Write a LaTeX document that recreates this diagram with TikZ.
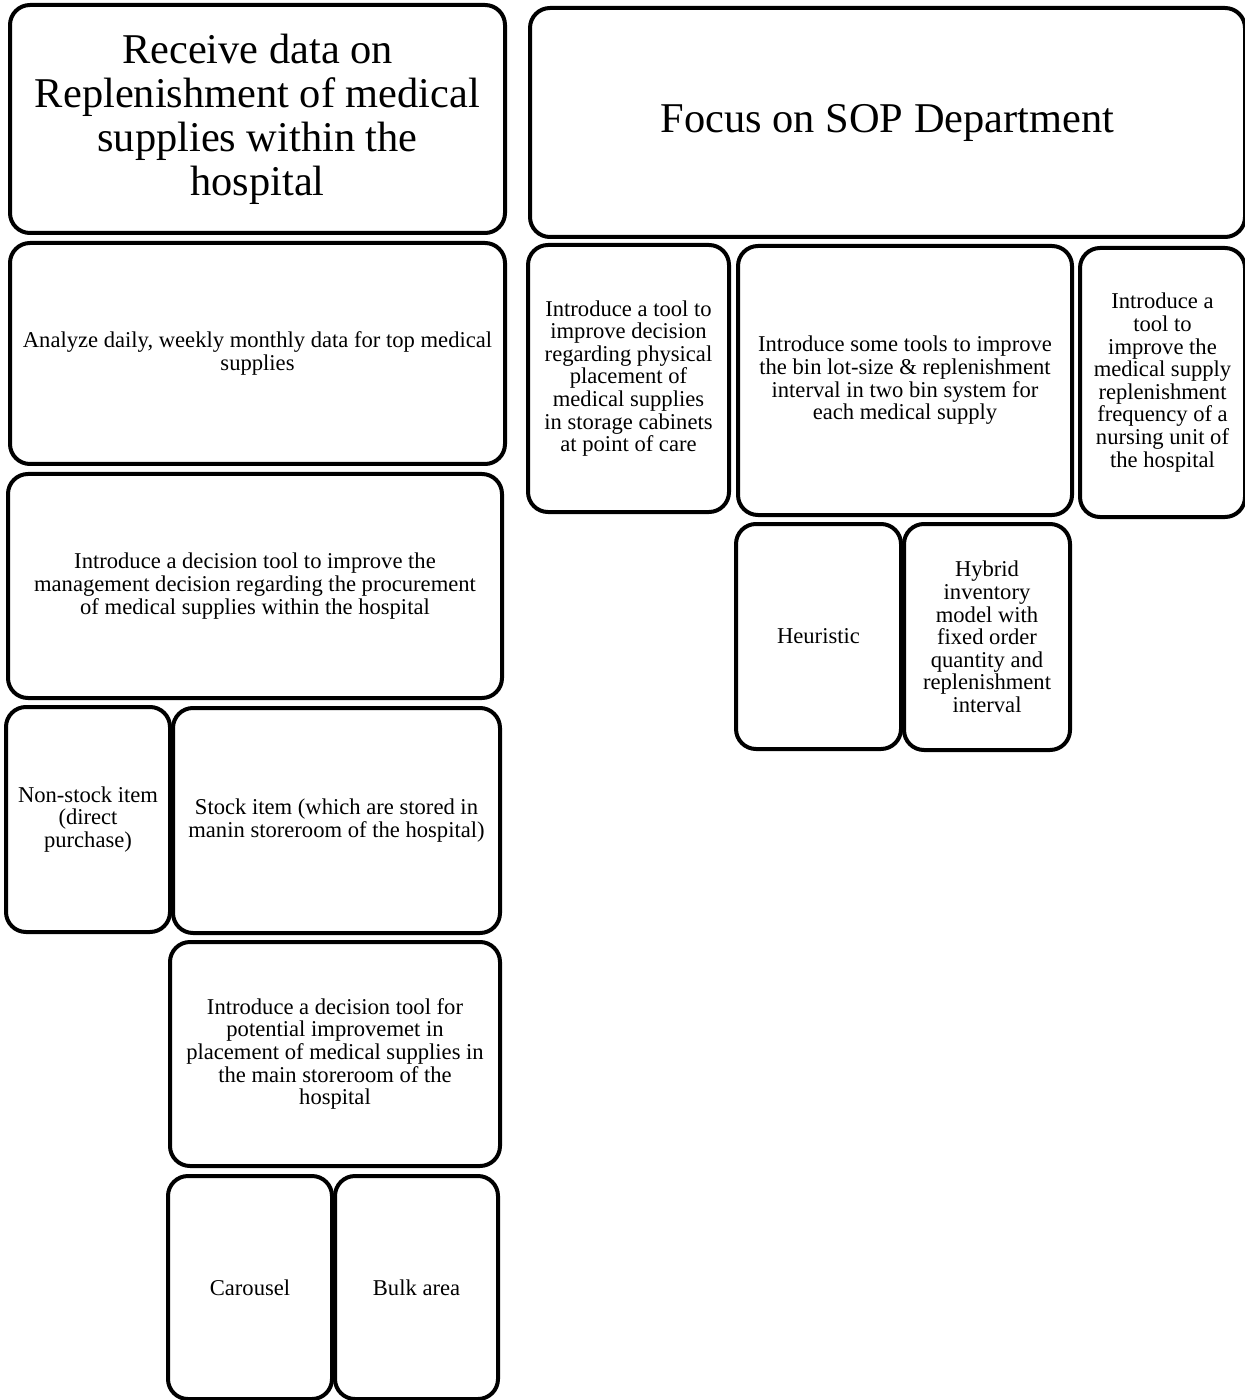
\documentclass[tikz,border=0pt]{standalone}
\usepackage{fontspec}
\setmainfont{Liberation Serif}
\usetikzlibrary{positioning}

\tikzset{
  box/.style={draw, line width=2pt, rounded corners=10pt, align=center, inner sep=1pt},
  titlebox/.style={box, font=\fontsize{21.2}{22}\selectfont},
  textbox/.style={box, font=\fontsize{11.3}{11.3}\selectfont}
}

\begin{document}
\begin{tikzpicture}[x=0.5pt, y=-0.5pt]
  \useasboundingbox (0,0) rectangle (1245,1400);

  % Left column
  \node[titlebox, minimum width=247.5pt, minimum height=114pt] (receive) at (257.5,119)
    {Receive data on\\Replenishment of medical\\supplies within the\\hospital};
  \node[textbox, minimum width=247.5pt, minimum height=110.5pt] (analyze) at (257.5,353.5)
    {Analyze daily, weekly monthly data for top medical\\supplies};
  \node[textbox, minimum width=247pt, minimum height=112pt] (procure) at (255,586)
    {Introduce a decision tool to improve the\\management decision regarding the procurement\\of medical supplies within the hospital};
  \node[textbox, minimum width=82pt, minimum height=112.5pt] (nonstock) at (88,819.5)
    {Non-stock item\\(direct\\purchase)};
  \node[textbox, minimum width=163.5pt, minimum height=112.5pt] (stock) at (336.5,820.5)
    {Stock item (which are stored in\\manin storeroom of the hospital)};
  \node[textbox, minimum width=165pt, minimum height=112pt] (placement) at (335,1054)
    {Introduce a decision tool for\\potential improvemet in\\placement of medical supplies in\\the main storeroom of the\\hospital};
  \node[textbox, minimum width=82pt, minimum height=111.5pt] (carousel) at (250,1287.5)
    {Carousel};
  \node[textbox, minimum width=81.5pt, minimum height=111.5pt] (bulk) at (416.5,1287.5)
    {Bulk area};

  % Right column
  \node[titlebox, minimum width=357.5pt, minimum height=114.5pt] (sop) at (887.5,122.5)
    {Focus on SOP Department};
  \node[textbox, minimum width=100.5pt, minimum height=133.5pt] (cabinet) at (628.5,378.5)
    {Introduce a tool to\\improve decision\\regarding physical\\placement of\\medical supplies\\in storage cabinets\\at point of care};
  \node[textbox, minimum width=167pt, minimum height=134.5pt] (binsize) at (905,380.5)
    {Introduce some tools to improve\\the bin lot-size \& replenishment\\interval in two bin system for\\each medical supply};
  \node[textbox, minimum width=82.5pt, minimum height=134.5pt] (frequency) at (1162.5,382.5)
    {Introduce a\\tool to\\improve the\\medical supply\\replenishment\\frequency of a\\nursing unit of\\the hospital};
  \node[textbox, minimum width=82.5pt, minimum height=112.5pt] (heuristic) at (818.5,636.5)
    {Heuristic};
  \node[textbox, minimum width=83pt, minimum height=113pt] (hybrid) at (987,637)
    {Hybrid\\inventory\\model with\\fixed order\\quantity and\\replenishment\\interval};
\end{tikzpicture}
\end{document}
